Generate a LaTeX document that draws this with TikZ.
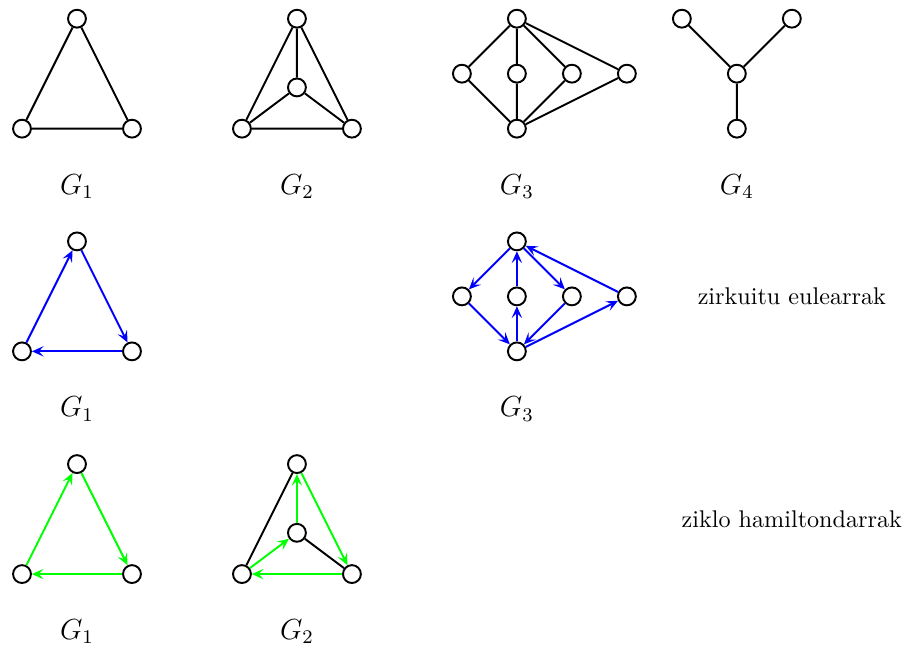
\documentclass[tikz,border=0pt]{standalone}
\usepackage{amsmath,amssymb}
\usepackage{xcolor}
\usepackage{tikz}
\usetikzlibrary{arrows.meta}
\tikzset{
  vtx/.style={circle, draw, thick, fill=white, inner sep=0pt, minimum size=7.4pt},
  edg/.style={thick},
  eularc/.style={thick, draw=blue, -{Stealth[length=1.7mm, width=1.5mm, inset=0.7mm]}},
  hamarc/.style={thick, draw=green, -{Stealth[length=1.7mm, width=1.5mm, inset=0.7mm]}},
  glabel/.style={font=\large, inner sep=0.5pt}
}

\begin{document}
\begin{tikzpicture}[x=0.8cm, y=0.8cm]
  \useasboundingbox (-0.4,-9.39) rectangle (16.04,2.34);

  % G1
  \node[vtx] (ga) at (1,2) {};
  \node[vtx] (gb) at (0,0) {};
  \node[vtx] (gc) at (2,0) {};
  \draw[edg] (ga) -- (gb) (gb) -- (gc) (gc) -- (ga);
  \node[glabel] (lga) at (1,-1.05) {$G_1$};

  % G2
  \node[vtx] (ha) at (5,2) {};
  \node[vtx] (hm) at (5,0.75) {};
  \node[vtx] (hb) at (4,0) {};
  \node[vtx] (hc) at (6,0) {};
  \draw[edg] (ha) -- (hb) (hb) -- (hc) (hc) -- (ha);
  \draw[edg] (ha) -- (hm) (hm) -- (hb) (hm) -- (hc);
  \node[glabel] (lha) at (5,-1.05) {$G_2$};

  % G3
  \node[vtx] (ka) at (9,2) {};
  \node[vtx] (kl) at (8,1) {};
  \node[vtx] (km) at (9,1) {};
  \node[vtx] (kr) at (10,1) {};
  \node[vtx] (kf) at (11,1) {};
  \node[vtx] (kb) at (9,0) {};
  \draw[edg] (ka) -- (kl) (ka) -- (km) (ka) -- (kr) (ka) -- (kf);
  \draw[edg] (kb) -- (kl) (kb) -- (km) (kb) -- (kr) (kb) -- (kf);
  \node[glabel] (lka) at (9,-1.05) {$G_3$};

  % G4
  \node[vtx] (ma) at (12,2) {};
  \node[vtx] (mb) at (14,2) {};
  \node[vtx] (mm) at (13,1) {};
  \node[vtx] (mc) at (13,0) {};
  \draw[edg] (ma) -- (mm) (mb) -- (mm) (mm) -- (mc);
  \node[glabel] (lma) at (13,-1.05) {$G_4$};

  % zirkuitu eulearrak
  \begin{scope}[yshift=-4.05*0.8cm]
    \node[vtx] (ea) at (1,2) {};
    \node[vtx] (eb) at (0,0) {};
    \node[vtx] (ec) at (2,0) {};
    \draw[eularc] (eb) -- (ea);
    \draw[eularc] (ea) -- (ec);
    \draw[eularc] (ec) -- (eb);
    \node[glabel] (lea) at (1,-1.05) {$G_1$};

    \node[vtx] (fa) at (9,2) {};
    \node[vtx] (fl) at (8,1) {};
    \node[vtx] (fm) at (9,1) {};
    \node[vtx] (fr) at (10,1) {};
    \node[vtx] (ff) at (11,1) {};
    \node[vtx] (fb) at (9,0) {};
    \draw[eularc] (fa) -- (fl);
    \draw[eularc] (fl) -- (fb);
    \draw[eularc] (fb) -- (fm);
    \draw[eularc] (fm) -- (fa);
    \draw[eularc] (fa) -- (fr);
    \draw[eularc] (fr) -- (fb);
    \draw[eularc] (fb) -- (ff);
    \draw[eularc] (ff) -- (fa);
    \node[glabel] (lfa) at (9,-1.05) {$G_3$};

    \node (eultxt) at (14,1) {zirkuitu eulearrak};
  \end{scope}

  % ziklo hamiltondarrak
  \begin{scope}[yshift=-8.1*0.8cm]
    \node[vtx] (pa) at (1,2) {};
    \node[vtx] (pb) at (0,0) {};
    \node[vtx] (pc) at (2,0) {};
    \draw[hamarc] (pb) -- (pa);
    \draw[hamarc] (pa) -- (pc);
    \draw[hamarc] (pc) -- (pb);
    \node[glabel] (lpa) at (1,-1.05) {$G_1$};

    \node[vtx] (qa) at (5,2) {};
    \node[vtx] (qm) at (5,0.75) {};
    \node[vtx] (qb) at (4,0) {};
    \node[vtx] (qc) at (6,0) {};
    \draw[edg] (qa) -- (qb) (qm) -- (qc);
    \draw[hamarc] (qb) -- (qm);
    \draw[hamarc] (qm) -- (qa);
    \draw[hamarc] (qa) -- (qc);
    \draw[hamarc] (qc) -- (qb);
    \node[glabel] (lqa) at (5,-1.05) {$G_2$};

    \node (hamtxt) at (14,1) {ziklo hamiltondarrak};
  \end{scope}
\end{tikzpicture}
\end{document}
